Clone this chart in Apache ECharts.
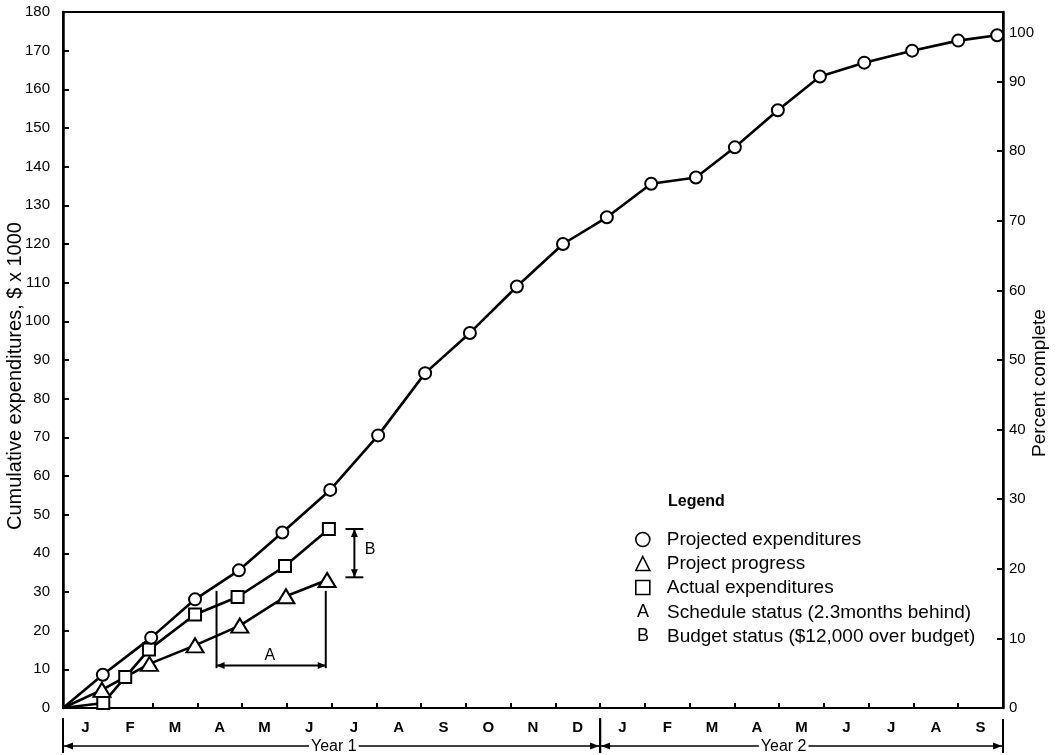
<!DOCTYPE html>
<html><head><meta charset="utf-8">
<script src="https://cdn.jsdelivr.net/npm/echarts@6/dist/echarts.min.js"></script>
<style>html,body{margin:0;padding:0;background:#fff}#c{width:1056px;height:755px}</style>
</head><body><div id="c"></div>
<script>
// ---- data ----
const monthLabels = ['J','F','M','A','M','J','J','A','S','O','N','D','J','F','M','A','M','J','J','A','S'];
const projectedMonths = [0,0.89,1.97,2.95,3.93,4.90,5.97,7.04,8.09,9.09,10.14,11.17,12.15,13.14,14.14,15.01,15.97,16.91,17.90,18.97,20.00,20.87];
const projectedValues = [0,8.6,18.2,28.1,35.6,45.4,56.4,70.5,86.6,97.0,109.0,120.0,126.9,135.6,137.2,145.0,154.6,163.3,166.9,170.0,172.6,174.0];
const progressMonths = [0,0.87,1.93,2.95,3.95,4.98,5.90];
const progressValues = [0,4.7,11.4,16.2,21.3,28.9,33.1];
const actualMonths = [0,0.90,1.39,1.92,2.95,3.90,4.96,5.94];
const actualValues = [0,1.3,8.0,15.1,24.2,28.7,36.7,46.3];
const scheduleSpan = [3.43, 5.87];        // months (A)
const scheduleLevels = [30.3, 10.3, 11.0]; // top, bottom, arrow level ($k)
const budgetMonth = 6.51;                  // (B)
const budgetSpan = [33.8, 46.3];           // $k
const annotationLetters = ['A', 'B'];
const annotationLabelAt = [[4.62, 13.6], [6.86, 41.0]];
const yearBreaks = [0, 12, 21];
const yearNames = ['Year 1', 'Year 2'];
const yearLabelAt = [6.05, 16.1];
const seriesNames = ['Projected expenditures', 'Project progress', 'Actual expenditures'];
const legendExtra = [['A', 'Schedule status (2.3months behind)'], ['B', 'Budget status ($12,000 over budget)']];

const FONT = "'Liberation Sans', Arial, Helvetica, sans-serif";

function pts(xs, ys) {
  return xs.map((x, i) => i === 0 ? { value: [x, ys[i]], symbol: 'none' } : [x, ys[i]]);
}
function arrowHead(tip, from, len, half) {
  const dx = tip[0] - from[0], dy = tip[1] - from[1];
  const d = Math.hypot(dx, dy) || 1;
  const ux = dx / d, uy = dy / d;
  const bx = tip[0] - ux * len, by = tip[1] - uy * len;
  return { type: 'polygon', shape: { points: [[tip[0], tip[1]], [bx - uy * half, by + ux * half], [bx + uy * half, by - ux * half]] }, style: { fill: '#000' } };
}

const half = 0.2;
const segments = [
  [scheduleSpan[0], scheduleLevels[0], scheduleSpan[0], scheduleLevels[1], 0, 0],
  [scheduleSpan[1], scheduleLevels[0], scheduleSpan[1], scheduleLevels[1], 0, 0],
  [scheduleSpan[0], scheduleLevels[2], scheduleSpan[1], scheduleLevels[2], 1, 1],
  [budgetMonth - half, budgetSpan[1], budgetMonth + half, budgetSpan[1], 0, 0],
  [budgetMonth - half, budgetSpan[0], budgetMonth + half, budgetSpan[0], 0, 0],
  [budgetMonth, budgetSpan[1], budgetMonth, budgetSpan[0], 1, 1]
];

const symStyle = { color: '#fff', borderColor: '#000', borderWidth: 2 };
function lineSeries(name, xs, ys, symbol, size, z) {
  return {
    name, type: 'line', data: pts(xs, ys), symbol, symbolSize: size, showAllSymbol: true,
    lineStyle: { color: '#000', width: 2.6 }, itemStyle: symStyle, z, animation: false
  };
}

const chart = echarts.init(document.getElementById('c'), null, { renderer: 'canvas' });
chart.setOption({
  backgroundColor: '#fff',
  animation: false,
  textStyle: { fontFamily: FONT },
  grid: { left: 63, right: 53, top: 12, bottom: 47, containLabel: false, outerBoundsMode: 'none',
    show: true, borderColor: '#000', borderWidth: 2, backgroundColor: 'transparent' },
  xAxis: [
    { type: 'value', min: 0, max: 21, interval: 1, position: 'bottom',
      axisLine: { lineStyle: { color: '#000', width: 2 } },
      axisTick: { inside: true, length: 5, lineStyle: { color: '#000', width: 2 } },
      axisLabel: { show: false }, splitLine: { show: false } },
    { type: 'category', data: monthLabels, boundaryGap: true, position: 'bottom',
      axisLine: { show: false }, axisTick: { show: false }, splitLine: { show: false },
      axisLabel: { margin: 12, fontSize: 15, fontWeight: 'bold', color: '#000', fontFamily: FONT, interval: 0 } }
  ],
  yAxis: [
    { type: 'value', min: 0, max: 180, interval: 10, position: 'left',
      name: 'Cumulative expenditures, $ x 1000', nameLocation: 'middle', nameRotate: 90, nameGap: 38,
      nameMoveOverlap: false,
      nameTextStyle: { fontSize: 20, color: '#000', fontFamily: FONT, padding: [0, 32, 0, 0] },
      axisLine: { show: true, lineStyle: { color: '#000', width: 2.5 } },
      axisTick: { inside: true, length: 6, lineStyle: { color: '#000', width: 2 } },
      axisLabel: { margin: 13, fontSize: 15, color: '#000', fontFamily: FONT },
      splitLine: { show: false } },
    { type: 'value', min: 0, max: 100, interval: 10, position: 'right',
      name: 'Percent complete', nameLocation: 'middle', nameRotate: 90, nameGap: 27,
      nameMoveOverlap: false,
      nameTextStyle: { fontSize: 19, color: '#000', fontFamily: FONT, padding: [0, 46, 0, 0] },
      axisLine: { show: true, lineStyle: { color: '#000', width: 2.5 } },
      axisTick: { inside: true, length: 6, lineStyle: { color: '#000', width: 2 } },
      axisLabel: { margin: 6, fontSize: 15, color: '#000', fontFamily: FONT,
        formatter: v => v === 100 ? '{low|100}' : String(v),
        rich: { low: { fontSize: 15, color: '#000', fontFamily: FONT, padding: [42, 0, 0, 0] } } },
      splitLine: { show: false } }
  ],
  legend: {
    orient: 'vertical', left: 635, top: 530, padding: 0, itemWidth: 14, itemHeight: 14, itemGap: 5,
    data: [
      { name: seriesNames[0], icon: 'circle' },
      { name: seriesNames[1], icon: 'triangle' },
      { name: seriesNames[2], icon: 'rect' }
    ],
    itemStyle: { color: '#fff', borderColor: '#000', borderWidth: 1.6 },
    textStyle: { fontSize: 19, color: '#000', fontFamily: FONT, padding: [0, 0, 0, 12] },
    selectedMode: false
  },
  graphic: [
    { type: 'text', left: 668, top: 494, style: { text: 'Legend', font: 'bold 16px ' + FONT, fill: '#000' } },
    ...legendExtra.map((r, i) => ({ type: 'group', left: 637, top: 603 + i * 24.5, children: [
      { type: 'text', x: 0, y: 0, style: { text: r[0], font: '18px ' + FONT, fill: '#000' } },
      { type: 'text', x: 30, y: 0, style: { text: r[1], font: '19px ' + FONT, fill: '#000' } }
    ] }))
  ],
  series: [
    lineSeries(seriesNames[0], projectedMonths, projectedValues, 'circle', 12, 5),
    lineSeries(seriesNames[1], progressMonths, progressValues, 'triangle', [17, 14], 4),
    lineSeries(seriesNames[2], actualMonths, actualValues, 'rect', 12, 4),
    { type: 'custom', name: 'annotations', data: segments, encode: { x: [0, 2], y: [1, 3] }, z: 3,
      clip: false, silent: true,
      renderItem: (params, api) => {
        const p1 = api.coord([api.value(0), api.value(1)]);
        const p2 = api.coord([api.value(2), api.value(3)]);
        const children = [{ type: 'line', shape: { x1: p1[0], y1: p1[1], x2: p2[0], y2: p2[1] }, style: { stroke: '#000', lineWidth: 2 } }];
        if (api.value(4)) children.push(arrowHead(p1, p2, 8, 3.5));
        if (api.value(5)) children.push(arrowHead(p2, p1, 8, 3.5));
        return { type: 'group', children };
      } },
    { type: 'custom', name: 'letters', data: annotationLabelAt, encode: { x: 0, y: 1 }, z: 3, silent: true,
      renderItem: (params, api) => {
        const p = api.coord([api.value(0), api.value(1)]);
        return { type: 'text', x: p[0], y: p[1], style: { text: annotationLetters[params.dataIndex], font: '16px ' + FONT, fill: '#000', align: 'center', verticalAlign: 'middle', textAlign: 'center', textVerticalAlign: 'middle' } };
      } },
    { type: 'custom', name: 'years', data: yearBreaks.slice(0, -1).map((b, i) => [b, yearBreaks[i + 1]]),
      encode: { x: [0, 1] }, clip: false, silent: true, z: 3,
      renderItem: (params, api) => {
        const a = api.coord([api.value(0), 0]);
        const b = api.coord([api.value(1), 0]);
        const base = a[1];
        const ly = base + 38;
        const lab = api.coord([yearLabelAt[params.dataIndex], 0]);
        const ch = [
          { type: 'line', shape: { x1: a[0], y1: ly, x2: b[0], y2: ly }, style: { stroke: '#000', lineWidth: 1.6 } },
          arrowHead([a[0] + 1, ly], [b[0], ly], 9, 3.5),
          arrowHead([b[0] - 1, ly], [a[0], ly], 9, 3.5),
          { type: 'line', shape: { x1: a[0], y1: base + 10, x2: a[0], y2: base + 45 }, style: { stroke: '#000', lineWidth: 2 } },
          { type: 'line', shape: { x1: b[0], y1: base + 11, x2: b[0], y2: base + 45 }, style: { stroke: '#000', lineWidth: 2 } },
          { type: 'text', x: lab[0], y: ly + 1, style: { text: yearNames[params.dataIndex], font: '16px ' + FONT, fill: '#000', backgroundColor: '#fff', padding: [0, 2], align: 'center', verticalAlign: 'middle', textAlign: 'center', textVerticalAlign: 'middle' } }
        ];
        return { type: 'group', children: ch };
      } }
  ]
});
</script></body></html>
